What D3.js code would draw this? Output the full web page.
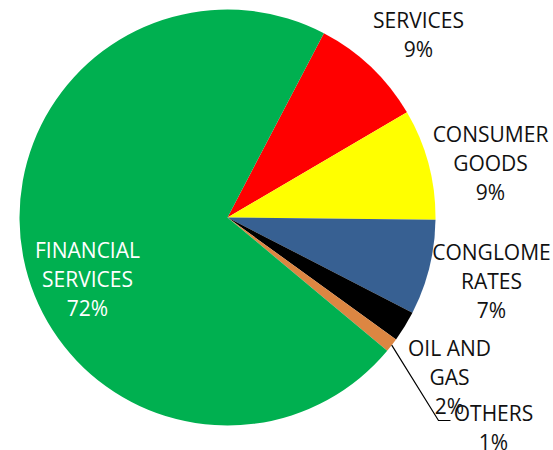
<!DOCTYPE html>
<html>
<head>
<meta charset="utf-8">
<script src="https://cdn.jsdelivr.net/npm/d3@7"></script>
<style>
  body { margin: 0; background: #fff; }
  svg { display: block; }
</style>
</head>
<body>
<div id="chart"></div>
<script>
const categories = ["SERVICES", "CONSUMER GOODS", "CONGLOMERATES", "OIL AND GAS", "OTHERS", "FINANCIAL SERVICES"]
const labelLines = [["SERVICES"], ["CONSUMER", "GOODS"], ["CONGLOME", "RATES"], ["OIL AND", "GAS"], ["OTHERS"], ["FINANCIAL", "SERVICES"]]
const values = [8.9, 8.6, 7.4, 2.4, 1.1, 71.6]
const colors = ["#FF0000", "#FFFF00", "#376092", "#000000", "#DC8642", "#00B050"]

const WIDTH = 553
const HEIGHT = 450
const CX = 227.5
const CY = 217.5
const RADIUS = 208
const START = 27.6 * Math.PI / 180
const LINE_H = 29

// label anchor (centre x, first baseline) relative to pie centre
const LABEL_AT = [[191, -190], [263, -76], [264, 42], [222, 138], [266, 203], [-140, 40]]

const svg = d3.select("#chart")
  .append("svg")
    .attr("width", WIDTH)
    .attr("height", HEIGHT)

const g = svg.append("g")
  .attr("transform", `translate(${CX}, ${CY})`)

const pie = d3.pie()
  .sort(null)
  .value(d => d)
  .startAngle(START)
  .endAngle(START + 2 * Math.PI)

const arcs = pie(values)
const arc = d3.arc().innerRadius(0).outerRadius(RADIUS)

g.selectAll("path.slice")
  .data(arcs)
  .enter().append("path")
    .attr("class", "slice")
    .attr("d", arc)
    .attr("fill", (d, i) => colors[i])

// leader line for the small OTHERS slice
const oi = categories.indexOf("OTHERS")
const oa = (arcs[oi].startAngle + arcs[oi].endAngle) / 2
const p0 = [RADIUS * Math.sin(oa), -RADIUS * Math.cos(oa)]
const lab = LABEL_AT[oi]
g.append("polyline")
  .attr("points", [p0, [lab[0] - 55, lab[1]], [lab[0] - 43, lab[1]]].map(p => p.join(",")).join(" "))
  .attr("fill", "none")
  .attr("stroke", "#000")
  .attr("stroke-width", 1.2)

const fmt = v => Math.round(v) + "%"

const labels = g.selectAll("text.lbl")
  .data(arcs)
  .enter().append("text")
    .attr("class", "lbl")
    .attr("text-anchor", "middle")
    .attr("font-family", "'Open Sans', sans-serif")
    .attr("font-size", 21)
    .attr("fill", (d, i) => categories[i] === "FINANCIAL SERVICES" ? "#fff" : "#111")

labels.each(function(d, i) {
  const t = d3.select(this)
  const lines = labelLines[i].concat([fmt(values[i])])
  lines.forEach((s, k) => {
    t.append("tspan")
      .attr("x", LABEL_AT[i][0])
      .attr("y", LABEL_AT[i][1] + k * LINE_H)
      .text(s)
  })
})
</script>
</body>
</html>
